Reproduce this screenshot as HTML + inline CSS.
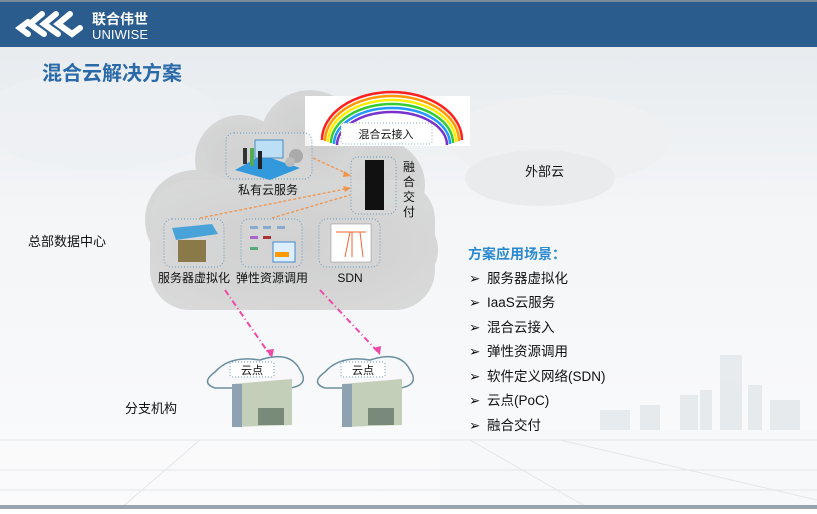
<!DOCTYPE html>
<html><head><meta charset="utf-8"><style>
body{margin:0;width:817px;height:509px;overflow:hidden;font-family:"Liberation Sans","Noto Sans CJK SC",sans-serif;}
</style></head><body>
<svg width="817" height="509" viewBox="0 0 817 509" xmlns="http://www.w3.org/2000/svg" font-family="Liberation Sans, Noto Sans CJK SC, sans-serif">
<defs>
<linearGradient id="bg" x1="0" y1="0" x2="0" y2="1">
<stop offset="0" stop-color="#e4e8ec"/><stop offset="0.4" stop-color="#f3f5f7"/><stop offset="1" stop-color="#fbfbfc"/></linearGradient>
<radialGradient id="cl" cx="0.5" cy="0.5" r="0.6"><stop offset="0" stop-color="#c8c8c8"/><stop offset="1" stop-color="#d4d4d4"/></radialGradient>
</defs>
<rect width="817" height="509" fill="url(#bg)"/>
<ellipse cx="100" cy="120" rx="120" ry="50" fill="#eef0f2" opacity="0.8"/>
<ellipse cx="560" cy="140" rx="110" ry="45" fill="#eef0f2"/>
<ellipse cx="540" cy="178" rx="75" ry="28" fill="#e9ebed"/>
<g fill="#e6e9ec" opacity="0.9">
<rect x="720" y="355" width="22" height="75"/><rect x="748" y="385" width="14" height="45"/><rect x="680" y="395" width="18" height="35"/><rect x="700" y="390" width="12" height="40"/><rect x="640" y="405" width="20" height="25"/><rect x="770" y="400" width="30" height="30"/><rect x="600" y="410" width="30" height="20"/>
</g>
<rect x="440" y="430" width="377" height="79" fill="#f7f8f9"/>
<g stroke="#e3e6e9" stroke-width="1" fill="none">
<line x1="0" y1="440" x2="817" y2="440"/><line x1="0" y1="470" x2="817" y2="470"/><line x1="0" y1="490" x2="817" y2="490"/>
<line x1="200" y1="440" x2="120" y2="509"/><line x1="470" y1="440" x2="590" y2="509"/><line x1="560" y1="440" x2="817" y2="500"/>
</g>
<rect x="0" y="0" width="817" height="47" fill="#2a5c8e"/>
<rect x="0" y="0" width="817" height="2" fill="#7a8a9a"/>
<g fill="none" stroke="#fff" stroke-width="6" stroke-linecap="round">
<path d="M28 22 L20 28 L28 34"/><path d="M42 14 L30 24 L44 34"/><path d="M56 14 L44 24 L58 34"/><path d="M70 14 L58 24 L72 34 L80 28"/>
</g>
<text x="92" y="24" fill="#fff" font-size="14" font-weight="bold">联合伟世</text>
<text x="92" y="39" fill="#fff" font-size="13" textLength="56">UNIWISE</text>
<text x="42" y="80" fill="#2a6aa8" font-size="20" font-weight="bold">混合云解决方案</text>
<g fill="url(#cl)" opacity="0.85">
<circle cx="240" cy="160" r="45"/><circle cx="310" cy="140" r="50"/><circle cx="380" cy="185" r="45"/><circle cx="195" cy="220" r="50"/><circle cx="400" cy="250" r="38"/>
<rect x="150" y="180" width="285" height="130" rx="40"/>
</g>
<rect x="305" y="96" width="165" height="50" fill="#fff"/>
<g fill="none" stroke-width="2.5">
<path d="M322 140 A70 48 0 0 1 462 140" stroke="#ff2020"/>
<path d="M325 141 A67 45 0 0 1 459 141" stroke="#ff9900"/>
<path d="M328 142 A64 42 0 0 1 456 142" stroke="#ffee00"/>
<path d="M331 143 A61 39 0 0 1 453 143" stroke="#33cc33"/>
<path d="M334 144 A58 36 0 0 1 450 144" stroke="#2299ff"/>
<path d="M337 145 A55 33 0 0 1 447 145" stroke="#7733cc"/>
</g>
<rect x="341" y="123" width="91" height="21" rx="3" fill="#fff" stroke="#8ab" stroke-dasharray="1 2"/>
<text x="386" y="138" font-size="11" text-anchor="middle" fill="#111">混合云接入</text>
<g fill="#dcdcdc" fill-opacity="0.3" stroke="#6c9ab8" stroke-dasharray="1 2">
<rect x="226" y="133" width="86" height="46" rx="8"/>
<rect x="351" y="157" width="45" height="57" rx="7"/>
<rect x="164" y="219" width="60" height="48" rx="8"/>
<rect x="241" y="219" width="61" height="48" rx="8"/>
<rect x="319" y="219" width="61" height="48" rx="8"/>
</g>
<polygon points="235,170 262,155 300,168 270,180" fill="#3399dd"/>
<rect x="255" y="140" width="28" height="18" fill="#bcdff5" stroke="#4a8abf"/>
<rect x="243" y="148" width="4" height="16" fill="#333"/><rect x="250" y="148" width="4" height="18" fill="#5a5"/><rect x="258" y="151" width="4" height="18" fill="#222"/>
<circle cx="296" cy="156" r="7" fill="#aaa"/><circle cx="290" cy="162" r="5" fill="#bbb"/>
<rect x="365" y="160" width="19" height="50" fill="#111"/>
<polygon points="172,228 212,224 218,234 176,240" fill="#4aa3d8"/>
<rect x="178" y="240" width="28" height="22" fill="#8a7a4a"/>
<g fill="#8ac"><rect x="250" y="226" width="8" height="3"/><rect x="263" y="226" width="8" height="3"/><rect x="277" y="226" width="8" height="3"/><rect x="250" y="236" width="8" height="3" fill="#a6c"/><rect x="263" y="236" width="8" height="3" fill="#a33"/><rect x="250" y="247" width="8" height="3" fill="#5a7"/></g>
<rect x="273" y="242" width="22" height="20" fill="#ddeeff" stroke="#48c"/><rect x="275" y="252" width="14" height="5" fill="#f90"/>
<rect x="331" y="224" width="40" height="38" fill="#fff" stroke="#888" stroke-width="0.5"/>
<g stroke="#e63" stroke-width="1" fill="none"><path d="M336 232 H366 M350 232 L345 257 M352 232 L352 257 M360 232 L363 257"/></g>
<g stroke="#f0944a" stroke-width="1.3" stroke-dasharray="3 2" fill="none">
<line x1="313" y1="158" x2="350" y2="175"/>
<line x1="200" y1="218" x2="350" y2="188"/>
<line x1="272" y1="218" x2="350" y2="195"/>
</g>
<g fill="#f0944a"><polygon points="351,176 344,171 343,177"/><polygon points="351,188 343,186 345,192"/></g>
<text x="403" y="171" font-size="12" fill="#111">融</text>
<text x="403" y="186" font-size="12" fill="#111">合</text>
<text x="403" y="201" font-size="12" fill="#111">交</text>
<text x="403" y="216" font-size="12" fill="#111">付</text>
<text x="268" y="194" font-size="12" text-anchor="middle" fill="#111">私有云服务</text>
<text x="194" y="282" font-size="12" text-anchor="middle" fill="#111">服务器虚拟化</text>
<text x="272" y="282" font-size="12" text-anchor="middle" fill="#111">弹性资源调用</text>
<text x="350" y="282" font-size="12" text-anchor="middle" fill="#111">SDN</text>
<text x="28" y="246" font-size="13" fill="#111">总部数据中心</text>
<text x="525" y="176" font-size="13" fill="#111">外部云</text>
<g stroke="#f04aa8" stroke-width="2" fill="none" stroke-dasharray="6 3 1 3">
<line x1="225" y1="290" x2="270" y2="355"/><line x1="320" y1="290" x2="378" y2="352"/>
</g>
<g fill="#f04aa8"><polygon points="272,358 266,350 274,349"/><polygon points="380,355 373,348 381,346"/></g>
<g>
<path d="M215 372 Q230 355 260 360 Q290 350 300 370 Q310 385 290 388 L215 388 Q200 383 215 372Z" fill="none" stroke="#6a8ea0" stroke-width="1.5"/>
<path d="M325 372 Q340 355 370 360 Q400 350 410 370 Q420 385 400 388 L325 388 Q310 383 325 372Z" fill="none" stroke="#6a8ea0" stroke-width="1.5"/>
<polygon points="232,384 292,379 292,425 232,427" fill="#c3cfb8"/><rect x="232" y="384" width="10" height="43" fill="#8fa2b2"/>
<polygon points="342,384 402,379 402,425 342,427" fill="#c3cfb8"/><rect x="342" y="384" width="10" height="43" fill="#8fa2b2"/>
<rect x="258" y="408" width="26" height="17" fill="#7a8a7a"/><rect x="368" y="408" width="26" height="17" fill="#7a8a7a"/>
<rect x="230" y="362" width="44" height="15" rx="2" fill="#fff" fill-opacity="0.8" stroke="#6c9ab8" stroke-dasharray="1 2"/>
<rect x="341" y="362" width="44" height="15" rx="2" fill="#fff" fill-opacity="0.8" stroke="#6c9ab8" stroke-dasharray="1 2"/>
<text x="252" y="374" font-size="11" text-anchor="middle" fill="#111">云点</text>
<text x="363" y="374" font-size="11" text-anchor="middle" fill="#111">云点</text>
</g>
<text x="125" y="413" font-size="13" fill="#111">分支机构</text>
<text x="468" y="259" font-size="14" font-weight="bold" fill="#2a8ad0">方案应用场景：</text>
<g font-size="13.5" fill="#111">
<text x="469" y="283">➢</text><text x="487" y="283">服务器虚拟化</text>
<text x="469" y="307">➢</text><text x="487" y="307">IaaS云服务</text>
<text x="469" y="332">➢</text><text x="487" y="332">混合云接入</text>
<text x="469" y="356">➢</text><text x="487" y="356">弹性资源调用</text>
<text x="469" y="381">➢</text><text x="487" y="381">软件定义网络(SDN)</text>
<text x="469" y="405">➢</text><text x="487" y="405">云点(PoC)</text>
<text x="469" y="430">➢</text><text x="487" y="430">融合交付</text>
</g>
<rect x="0" y="505" width="817" height="4" fill="#9aa4ae"/>
</svg>
</body></html>
